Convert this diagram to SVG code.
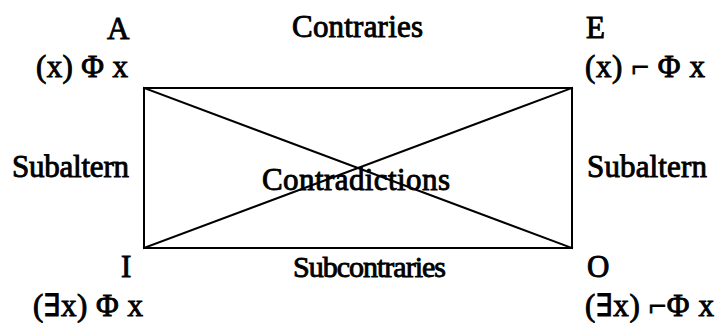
<svg xmlns="http://www.w3.org/2000/svg" width="719" height="323" viewBox="0 0 719 323">
<style>
text{font-family:"Liberation Serif","DejaVu Serif",serif;font-size:31px;fill:#000;stroke:#000;stroke-width:0.9}
.ln{stroke:#000;stroke-width:2;fill:none;stroke-linecap:square}
</style>
<rect width="719" height="323" fill="#fff"/>
<g id="connectors">
<line class="ln" x1="144" y1="88" x2="572" y2="88"/>
<line class="ln" x1="144" y1="248" x2="572" y2="248"/>
<line class="ln" x1="144" y1="88" x2="144" y2="248"/>
<line class="ln" x1="572" y1="88" x2="572" y2="248"/>
<line class="ln" x1="144" y1="88" x2="572" y2="248"/>
<line class="ln" x1="144" y1="248" x2="572" y2="88"/>
<text x="292" y="37" textLength="131">Contraries</text>
<text x="12" y="177" textLength="117">Subaltern</text>
<text x="587" y="177" textLength="120">Subaltern</text>
<text x="262" y="190" textLength="188">Contradictions</text>
<text x="293" y="277" textLength="153" style="font-size:30px">Subcontraries</text>
</g>
<g id="node-A">
<text x="107" y="39">A</text>
<text x="36" y="77" textLength="92">(x) Φ x</text>
</g>
<g id="node-E">
<text x="586" y="38">E</text>
<text x="585" y="77" textLength="120">(x) ⌐ Φ x</text>
</g>
<g id="node-I">
<text x="121" y="277">I</text>
<text x="33" y="316" textLength="110">(∃x) Φ x</text>
</g>
<g id="node-O">
<text x="587" y="277">O</text>
<text x="585" y="316" textLength="129">(∃x) ⌐Φ x</text>
</g>
</svg>
